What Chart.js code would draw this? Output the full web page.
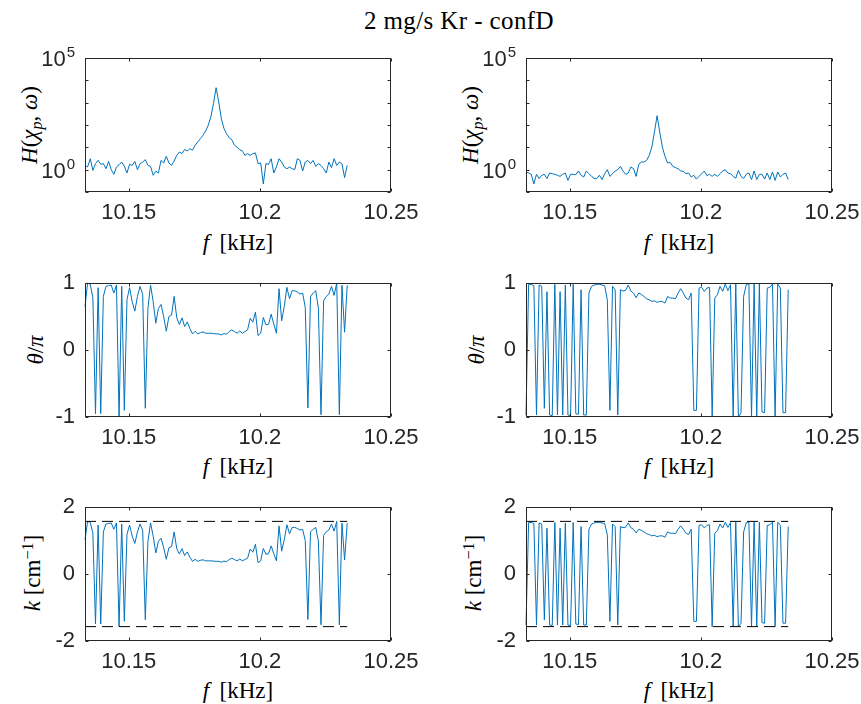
<!DOCTYPE html>
<html>
<head>
<meta charset="utf-8">
<script src="https://cdn.jsdelivr.net/npm/chart.js@4.4.1/dist/chart.umd.min.js"></script>
<style>
  body { margin: 0; width: 861px; height: 704px; overflow: hidden; position: relative; background: #fff; }
  canvas { position: absolute; }
  .lbl { position: absolute; white-space: nowrap; font-family: "Liberation Serif", "Times New Roman", serif; font-size: 23px; color: #000; transform: translate(-50%, -50%); line-height: 1; }
  .title { font-size: 25px; letter-spacing: 0.4px; }
  .rot { transform: translate(-50%, -50%) rotate(-90deg); }
  .sub { font-size: 0.7em; position: relative; top: 0.3em; }
  .sup { font-size: 0.7em; position: relative; top: -0.45em; }
</style>
</head>
<body>
<div class="lbl title" style="left:459px; top:20px;">2 mg/s Kr - confD</div>

<div class="lbl rot" style="left:29px; top:125px;"><i>H</i>(<i>χ</i><span class="sub"><i>p</i></span>, <i>ω</i>)</div>
<div class="lbl rot" style="left:470px; top:125px;"><i>H</i>(<i>χ</i><span class="sub"><i>p</i></span>, <i>ω</i>)</div>
<div class="lbl rot" style="left:35px; top:350px;"><i>θ</i>/<i>π</i></div>
<div class="lbl rot" style="left:476px; top:350px;"><i>θ</i>/<i>π</i></div>
<div class="lbl rot" style="left:32px; top:573px;"><i>k</i> [cm<span class="sup">−1</span>]</div>
<div class="lbl rot" style="left:473px; top:573px;"><i>k</i> [cm<span class="sup">−1</span>]</div>

<div class="lbl" style="left:238px; top:242px;"><i>f</i>&thinsp; [kHz]</div>
<div class="lbl" style="left:679px; top:242px;"><i>f</i>&thinsp; [kHz]</div>
<div class="lbl" style="left:238px; top:466px;"><i>f</i>&thinsp; [kHz]</div>
<div class="lbl" style="left:679px; top:466px;"><i>f</i>&thinsp; [kHz]</div>
<div class="lbl" style="left:238px; top:690px;"><i>f</i>&thinsp; [kHz]</div>
<div class="lbl" style="left:679px; top:690px;"><i>f</i>&thinsp; [kHz]</div>

<script>
// frequency grid (kHz)
const fStart = 10.1333;
const fStep = 0.001;
const nPts = 101;
const freq = Array.from({ length: nPts }, (_, i) => +(fStart + i * fStep).toFixed(4));

const xMax = 10.25;
const xTicks = [10.15, 10.2, 10.25];
const xTickLabels = ['10.15', '10.2', '10.25'];

const hDecades = [0.1, 1, 10, 100, 1000, 10000, 100000];
const thetaTicks = [-1, 0, 1];
const thetaTickLabels = ['-1', '0', '1'];
const kTicks = [-2, 0, 2];
const kTickLabels = ['-2', '0', '2'];
const kLimit = Math.PI / 2;

// |H| (left and right probe pairs)
const hLeft = [
  1.55, 1.32, 3.1, 0.93, 1.86, 2.6, 1.74, 1.86, 1.1, 2.34,
  1.0, 0.62, 1.32, 1.66, 2.19, 1.41, 0.71, 1.74, 1.55, 2.34,
  1.0, 1.86, 2.19, 2.82, 1.55, 1.41, 0.56, 0.85, 0.71, 2.6,
  2.0, 3.98, 2.0, 1.55, 2.45, 4.37, 6.17, 5.25, 7.94, 6.92,
  8.71, 7.41, 12.3, 17.4, 24.5, 34.7, 53.7, 97.7, 229, 912,
  4677, 1072, 190, 69.2, 40.7, 26.9, 21.9, 12.3, 10.2, 7.94,
  6.92, 4.37, 5.25, 4.37, 5.25, 5.62, 1.86, 2.0, 0.23, 1.86,
  1.74, 3.1, 0.71, 1.32, 3.1, 2.19, 1.32, 1.1, 1.32, 1.1,
  1.02, 3.1, 2.6, 0.87, 2.19, 2.6, 1.86, 2.6, 1.41, 1.86,
  1.55, 1.1, 0.71, 2.19, 1.23, 3.1, 1.55, 2.19, 1.86, 0.44, 1.55
];
const hRight = [
  0.79, 0.71, 0.62, 0.23, 0.62, 0.40, 0.56, 0.62, 0.40, 0.71,
  0.66, 0.62, 0.56, 0.50, 0.62, 0.71, 0.33, 0.62, 0.62, 0.60,
  0.87, 0.56, 0.47, 0.87, 0.66, 0.50, 0.40, 0.40, 0.56, 0.36,
  0.66, 1.0, 0.50, 0.66, 0.87, 1.0, 1.41, 0.87, 0.62, 0.71,
  1.32, 1.11, 0.50, 1.74, 2.2, 2.2, 2.6, 4.4, 10.3, 48.7,
  262, 48.7, 10.3, 3.96, 1.99, 2.13, 1.41, 1.23, 1.11, 0.87,
  0.84, 0.66, 0.71, 0.47, 0.56, 0.38, 0.50, 0.66, 0.87, 0.54,
  0.62, 0.50, 0.62, 0.50, 0.66, 0.87, 1.0, 0.71, 0.66, 0.50,
  0.42, 0.93, 0.50, 0.40, 0.62, 0.71, 0.36, 0.87, 0.36, 0.62,
  0.62, 0.38, 0.71, 0.36, 0.79, 0.33, 0.79, 0.47, 0.62, 0.71, 0.36
];

// phase difference theta/pi
const thetaLeft = [
  0.65, 1.0, 0.98, 0.78, -0.95, 0.93, -0.95, 0.8, 0.95, 0.96,
  0.97, 0.85, 0.97, -1.0, 0.95, -0.9, 0.75, 0.93, 0.72, 0.58,
  0.8, 0.95, 0.83, -0.87, 0.62, 0.97, 0.72, 0.4, 0.62, 0.68,
  0.5, 0.28, 0.5, 0.52, 0.8, 0.48, 0.38, 0.48, 0.35, 0.42,
  0.32, 0.24, 0.28, 0.24, 0.26, 0.27, 0.25, 0.25, 0.25, 0.245,
  0.24, 0.24, 0.225, 0.245, 0.235, 0.275, 0.30, 0.275, 0.25, 0.285,
  0.25, 0.275, 0.30, 0.475, 0.415, 0.565, 0.215, 0.25, 0.485, 0.375,
  0.385, 0.535, 0.385, 0.25, 0.915, 0.435, 0.65, 0.935, 0.765, 0.885,
  0.885, 0.865, 0.835, 0.85, 0.635, -0.865, 0.80, 0.85, 0.885, 0.625,
  -0.965, 0.735, 0.80, 0.835, 0.95, 0.815, 1.0, -0.965, 0.965, 0.265, 0.965
];
const thetaRight = [
  -0.97, 0.98, 0.98, 0.96, -0.97, 0.97, 0.95, -0.87, 0.87, -0.97,
  -0.98, 0.98, -0.97, 0.87, -0.97, 0.97, -0.97, -0.98, 0.98, -0.95,
  -0.96, 0.9, -0.97, -0.97, 0.85, 0.95, 0.97, 0.98, 0.98, 0.97,
  0.96, 0.75, -0.9, 0.95, 0.9, -0.97, 0.9, 0.88, 0.89, 0.97,
  0.88, 0.85, 0.78, 0.85, 0.83, 0.80, 0.765, 0.75, 0.725, 0.735,
  0.71, 0.725, 0.725, 0.70, 0.80, 0.775, 0.775, 0.765, 0.85, 0.915,
  0.85, 0.775, 0.75, 0.85, -0.9, -0.9, 0.925, 0.935, 0.875, 0.925,
  0.935, -1.0, 0.775, 0.825, 0.95, 0.875, 0.985, 0.885, 0.975, -1.0,
  0.985, -1.0, -0.935, 0.80, 0.975, 0.99, -1.0, 0.985, -1.0, 0.985,
  -0.925, -0.935, 0.925, 0.935, 0.985, -1.0, 0.985, 0.925, -0.935, -0.935, 0.9
];

// wavenumber k = theta / dx, same phase data in cm^-1
const kLeft = thetaLeft.map(v => v * Math.PI / 2);
const kRight = thetaRight.map(v => v * Math.PI / 2);

const blue = '#0072BD';
const axisColor = '#262626';
const tickFont = '"Liberation Sans", Arial, sans-serif';

const plotW = 306, plotH = 134;
const padL = 80, padT = 15, padR = 34, padB = 40;
const colLeft = [85, 526];
const rowTop = [58, 283, 507];

const boxPlugin = {
  id: 'matlabBox',
  afterDraw(chart, args, opts) {
    const { ctx, chartArea: a } = chart;
    const x = chart.scales.x, y = chart.scales.y;
    const L = Math.round(a.left) + 0.5, R = Math.round(a.right) - 0.5;
    const T = Math.round(a.top) + 0.5, B = Math.round(a.bottom) - 0.5;
    ctx.save();
    ctx.strokeStyle = axisColor;
    ctx.lineWidth = 1;
    ctx.strokeRect(L, T, R - L, B - T);
    ctx.beginPath();
    x.ticks.forEach(t => {
      const px = Math.round(x.getPixelForValue(t.value)) + 0.5;
      ctx.moveTo(px, B); ctx.lineTo(px, B - 3);
      ctx.moveTo(px, T); ctx.lineTo(px, T + 3);
    });
    y.ticks.forEach(t => {
      const py = Math.round(y.getPixelForValue(t.value)) + 0.5;
      ctx.moveTo(L, py); ctx.lineTo(L + 3, py);
      ctx.moveTo(R, py); ctx.lineTo(R - 3, py);
    });
    ctx.stroke();

    if (opts.logLabels) {
      ctx.fillStyle = axisColor;
      ctx.textAlign = 'right';
      ctx.textBaseline = 'alphabetic';
      [[1, '0'], [100000, '5']].forEach(([v, e]) => {
        const py = y.getPixelForValue(v);
        const xr = a.left - 10;
        ctx.font = '15px ' + tickFont;
        const ew = ctx.measureText(e).width;
        ctx.fillText(e, xr, py - 1);
        ctx.font = '22px ' + tickFont;
        ctx.fillText('10', xr - ew - 1, py + 8);
      });
    }
    ctx.restore();
  }
};

function trace(vals) {
  return {
    data: freq.map((f, i) => ({ x: f, y: vals[i] })),
    borderColor: blue, borderWidth: 1, pointRadius: 0, tension: 0, clip: false
  };
}

function dashed(v) {
  return {
    data: [{ x: freq[0], y: v }, { x: freq[freq.length - 1], y: v }],
    borderColor: '#000', borderWidth: 1, borderDash: [11, 6], pointRadius: 0, clip: false
  };
}

function linearY(min, max, ticks, labels) {
  return {
    type: 'linear', min, max,
    afterBuildTicks: s => { s.ticks = ticks.map(v => ({ value: v })); },
    ticks: { callback: (v, i) => labels[i], font: { family: tickFont, size: 22 }, color: axisColor, padding: 10 }
  };
}

function logY() {
  return {
    type: 'logarithmic', min: 0.1, max: 100000,
    afterBuildTicks: s => { s.ticks = hDecades.map(v => ({ value: v })); },
    ticks: { display: false }
  };
}

function makeChart(col, row, yScale, datasets, logLabels) {
  const cv = document.createElement('canvas');
  cv.width = padL + plotW + padR;
  cv.height = padT + plotH + padB;
  cv.style.left = (colLeft[col] - padL) + 'px';
  cv.style.top = (rowTop[row] - padT) + 'px';
  document.body.appendChild(cv);

  yScale.grid = { display: false, drawTicks: false };
  yScale.border = { display: false };
  yScale.afterFit = s => { s.width = padL; s.paddingTop = 0; s.paddingBottom = 0; };

  return new Chart(cv, {
    type: 'line',
    data: { datasets },
    options: {
      responsive: false,
      animation: false,
      devicePixelRatio: 1,
      layout: { padding: { left: 0, top: padT, right: padR, bottom: 0 } },
      plugins: { legend: { display: false }, tooltip: { enabled: false }, matlabBox: { logLabels } },
      scales: {
        x: {
          type: 'linear', min: freq[0], max: xMax,
          afterBuildTicks: s => { s.ticks = xTicks.map(v => ({ value: v })); },
          afterFit: s => { s.height = padB; s.paddingLeft = 0; s.paddingRight = 0; },
          ticks: {
            callback: (v, i) => xTickLabels[i],
            font: { family: tickFont, size: 22 }, color: axisColor,
            padding: 8, maxRotation: 0, autoSkip: false
          },
          grid: { display: false, drawTicks: false },
          border: { display: false }
        },
        y: yScale
      }
    },
    plugins: [boxPlugin]
  });
}

makeChart(0, 0, logY(), [trace(hLeft)], true);
makeChart(1, 0, logY(), [trace(hRight)], true);
makeChart(0, 1, linearY(-1, 1, thetaTicks, thetaTickLabels), [trace(thetaLeft)], false);
makeChart(1, 1, linearY(-1, 1, thetaTicks, thetaTickLabels), [trace(thetaRight)], false);
makeChart(0, 2, linearY(-2, 2, kTicks, kTickLabels), [dashed(kLimit), dashed(-kLimit), trace(kLeft)], false);
makeChart(1, 2, linearY(-2, 2, kTicks, kTickLabels), [dashed(kLimit), dashed(-kLimit), trace(kRight)], false);
</script>
</body>
</html>
